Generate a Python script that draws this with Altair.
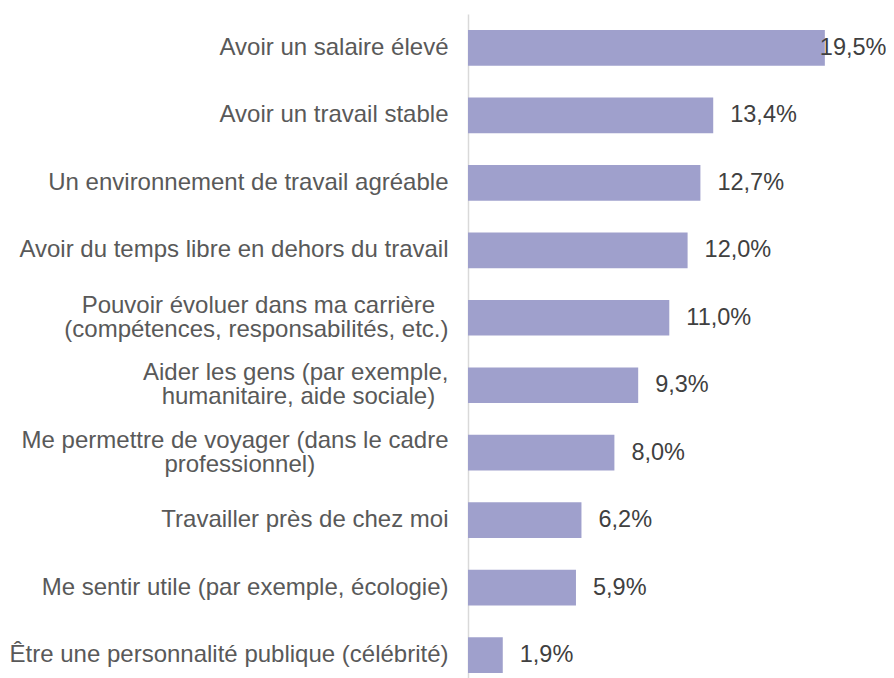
import altair as alt
import pandas as pd

NB = "\u00a0"
WJ = "\u2060"

categories = [
    "Avoir un salaire élevé",
    "Avoir un travail stable",
    "Un environnement de travail agréable",
    "Avoir du temps libre en dehors du travail",
    "Pouvoir évoluer dans ma carrière" + NB * 2 + WJ + "|(compétences, responsabilités, etc.)",
    "Aider les gens (par exemple,|humanitaire, aide sociale)" + NB * 2 + WJ,
    "Me permettre de voyager (dans le cadre|professionnel)" + NB * 20 + WJ,
    "Travailler près de chez moi",
    "Me sentir utile (par exemple, écologie)",
    "Être une personnalité publique (célébrité)",
]
values = [19.5, 13.4, 12.7, 12.0, 11.0, 9.3, 8.0, 6.2, 5.9, 1.9]

df = pd.DataFrame({"cat": categories, "val": values})

FONT = "Liberation Sans"
FS = 24

y_enc = alt.Y(
    "cat:N",
    sort=categories,
    title=None,
    scale=alt.Scale(paddingInner=0.471, paddingOuter=0.1555, align=0.762),
    axis=alt.Axis(
        labelExpr="split(datum.value, '|')",
        labelFont=FONT,
        labelFontSize=FS,
        labelColor="#595959",
        labelPadding=20,
        labelLimit=0,
        labelLineHeight=24,
        labelOffset=alt.condition("indexof(datum.value, '|') >= 0", alt.value(-12), alt.value(0)),
        ticks=False,
        domainColor="#d9d9d9",
        domainWidth=1.5,
        grid=False,
    ),
)
x_enc = alt.X("val:Q", scale=alt.Scale(domain=[0, 20]), axis=None)

base = alt.Chart(df).transform_calculate(
    lab="replace(format(datum.val, '.1f'), '.', ',') + '%'"
)

bars = base.mark_bar(color="#9FA0CC").encode(x=x_enc, y=y_enc)

text_common = dict(font=FONT, fontSize=23.5, color="#404040", align="left", baseline="middle")

labels_main = base.transform_filter("datum.val < 19").mark_text(dx=17, **text_common).encode(
    x="val:Q", y=alt.Y("cat:N", sort=categories), text="lab:N"
)
labels_top = base.transform_filter("datum.val >= 19").mark_text(dx=-5, **text_common).encode(
    x="val:Q", y=alt.Y("cat:N", sort=categories), text="lab:N"
)

chart = (
    alt.layer(bars, labels_main, labels_top)
    .properties(
        width=366,
        height=664,
        autosize=alt.AutoSizeParams(type="none"),
        padding={"left": 460, "top": 6, "right": 52, "bottom": 0},
    )
    .configure_view(stroke=None)
)

chart.save("out.html", embed_options={"renderer": "svg", "actions": False})
